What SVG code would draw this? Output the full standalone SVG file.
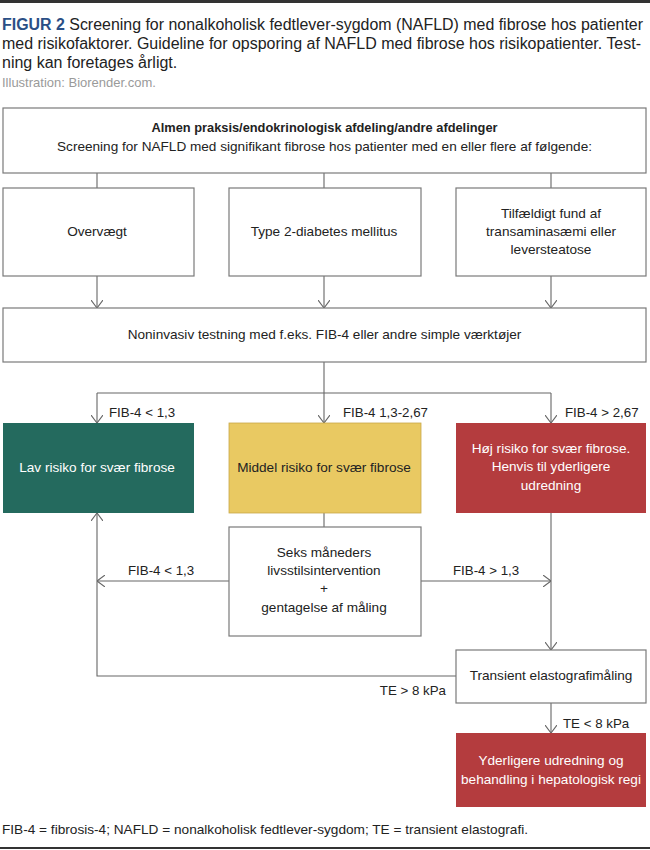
<svg xmlns="http://www.w3.org/2000/svg" width="650" height="850" viewBox="0 0 650 850">
<style>
text{font-family:"Liberation Sans",Arial,sans-serif;}
.cap{font-size:16px;fill:#222;}
.fig{font-weight:bold;fill:#2b4f86;}
.ill{font-size:13px;fill:#9a9a9a;}
.box{fill:#fff;stroke:#7a7a7a;stroke-width:1.2;}
.t{font-size:13.6px;fill:#222;text-anchor:middle;}
.tw{font-size:13.6px;fill:#fff;text-anchor:middle;}
.lbl{font-size:13.3px;fill:#222;}
.con{fill:none;stroke:#666;stroke-width:1.1;}
.foot{font-size:13px;fill:#222;}
</style>
<defs>
<marker id="arr" viewBox="0 0 8 12" refX="8" refY="6" markerWidth="8" markerHeight="12" markerUnits="userSpaceOnUse" orient="auto">
<path d="M0,0 L8,6 L0,12" fill="none" stroke="#666" stroke-width="1.1"/>
</marker>
</defs>
<rect x="0" y="0" width="650" height="3" fill="#333"/>
<g id="caption">
<text class="cap" x="2" y="30" textLength="641" lengthAdjust="spacingAndGlyphs"><tspan class="fig">FIGUR 2</tspan> Screening for nonalkoholisk fedtlever-sygdom (NAFLD) med fibrose hos patienter</text>
<text class="cap" x="2" y="49" textLength="639" lengthAdjust="spacingAndGlyphs">med risikofaktorer. Guideline for opsporing af NAFLD med fibrose hos risikopatienter. Test-</text>
<text class="cap" x="2" y="68">ning kan foretages årligt.</text>
<text class="ill" x="2" y="87">Illustration: Biorender.com.</text>
</g>
<g id="connectors">
<path class="con" d="M97,173 V188 M324,173 V188 M551,173 V188"/>
<path class="con" d="M97,276 V308" marker-end="url(#arr)"/>
<path class="con" d="M324,276 V308" marker-end="url(#arr)"/>
<path class="con" d="M551,276 V308" marker-end="url(#arr)"/>
<path class="con" d="M324,362 V423" marker-end="url(#arr)"/>
<path class="con" d="M97,393 H551"/>
<path class="con" d="M97,393 V423" marker-end="url(#arr)"/>
<path class="con" d="M551,393 V423" marker-end="url(#arr)"/>
<path class="con" d="M324,513 V527"/>
<path class="con" d="M229,581 H97" marker-end="url(#arr)"/>
<path class="con" d="M421,581 H551" marker-end="url(#arr)"/>
<path class="con" d="M551,513 V650" marker-end="url(#arr)"/>
<path class="con" d="M456,676 H97 V513" marker-end="url(#arr)"/>
<path class="con" d="M551,703 V733" marker-end="url(#arr)"/>
<text class="lbl" x="109" y="417">FIB-4 &lt; 1,3</text>
<text class="lbl" x="343" y="417">FIB-4 1,3-2,67</text>
<text class="lbl" x="565" y="417">FIB-4 &gt; 2,67</text>
<text class="lbl" x="128" y="575">FIB-4 &lt; 1,3</text>
<text class="lbl" x="453" y="575">FIB-4 &gt; 1,3</text>
<text class="lbl" x="446" y="695" text-anchor="end">TE &gt; 8 kPa</text>
<text class="lbl" x="563" y="728">TE &lt; 8 kPa</text>
</g>
<g id="top">
<rect class="box" x="3" y="108" width="643" height="65"/>
<text class="t" x="324.5" y="132" font-weight="bold" font-size="13" textLength="346" lengthAdjust="spacingAndGlyphs">Almen praksis/endokrinologisk afdeling/andre afdelinger</text>
<text class="t" x="324.5" y="151">Screening for NAFLD med signifikant fibrose hos patienter med en eller flere af følgende:</text>
</g>
<g id="overvaegt">
<rect class="box" x="3" y="188" width="191" height="88"/>
<text class="t" x="97" y="236">Overvægt</text>
</g>
<g id="diabetes">
<rect class="box" x="229" y="188" width="192" height="88"/>
<text class="t" x="324" y="236">Type 2-diabetes mellitus</text>
</g>
<g id="tilfaeldigt">
<rect class="box" x="456" y="188" width="190" height="88"/>
<text class="t" x="551" y="218">Tilfældigt fund af</text>
<text class="t" x="551" y="236">transaminasæmi eller</text>
<text class="t" x="551" y="254">leversteatose</text>
</g>
<g id="noninvasiv">
<rect class="box" x="3" y="308" width="643" height="54"/>
<text class="t" x="324.5" y="339">Noninvasiv testning med f.eks. FIB-4 eller andre simple værktøjer</text>
</g>
<g id="lav">
<rect x="3" y="423" width="191" height="90" fill="#246a5e"/>
<text class="tw" x="97" y="472">Lav risiko for svær fibrose</text>
</g>
<g id="middel">
<rect x="229" y="423" width="192" height="90" fill="#e9c962" stroke="#c9a94a" stroke-width="0.8"/>
<text class="t" x="324" y="472">Middel risiko for svær fibrose</text>
</g>
<g id="hoej">
<rect x="456" y="423" width="190" height="90" fill="#b43c3e"/>
<text class="tw" x="551" y="453">Høj risiko for svær fibrose.</text>
<text class="tw" x="551" y="471">Henvis til yderligere</text>
<text class="tw" x="551" y="490">udredning</text>
</g>
<g id="seks">
<rect class="box" x="229" y="527" width="192" height="109"/>
<text class="t" x="324" y="557">Seks måneders</text>
<text class="t" x="324" y="575">livsstilsintervention</text>
<text class="t" x="324" y="593">+</text>
<text class="t" x="324" y="612">gentagelse af måling</text>
</g>
<g id="transient">
<rect class="box" x="456" y="650" width="190" height="53"/>
<text class="t" x="551" y="680">Transient elastografimåling</text>
</g>
<g id="yderligere">
<rect x="456" y="733" width="190" height="74" fill="#b43c3e"/>
<text class="tw" x="551" y="765">Yderligere udredning og</text>
<text class="tw" x="551" y="784">behandling i hepatologisk regi</text>
</g>
<text class="foot" x="2" y="834" textLength="526" lengthAdjust="spacingAndGlyphs">FIB-4 = fibrosis-4; NAFLD = nonalkoholisk fedtlever-sygdom; TE = transient elastografi.</text>
<rect x="0" y="847" width="650" height="2" fill="#333"/>
</svg>
